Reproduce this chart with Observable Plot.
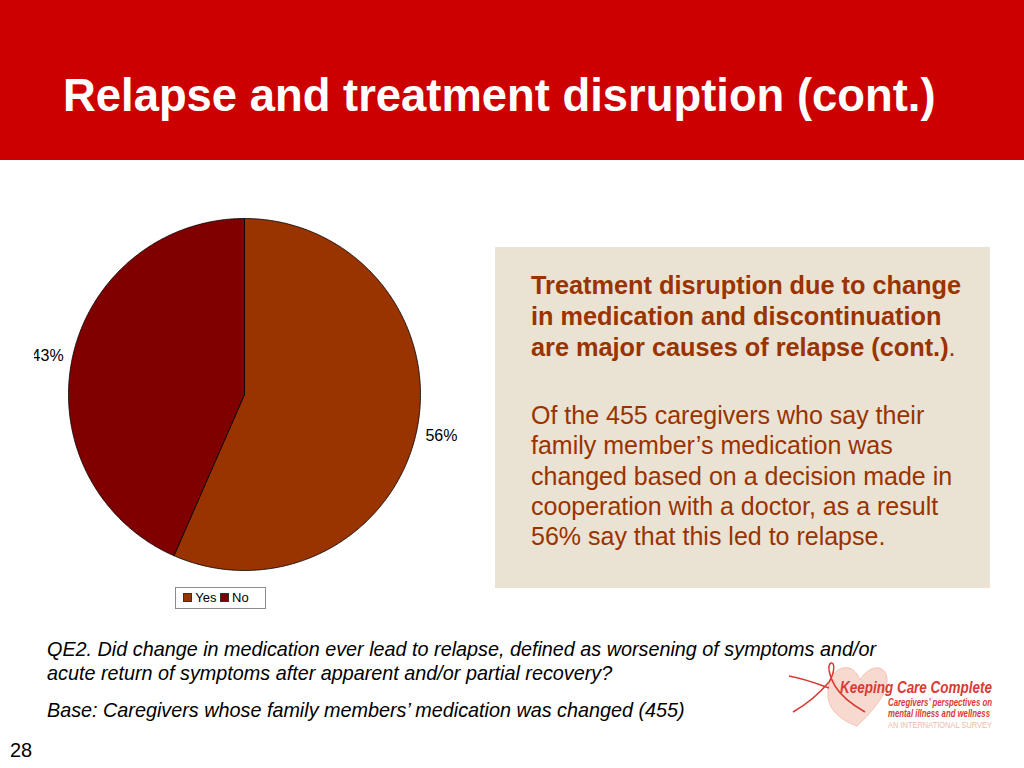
<!DOCTYPE html>
<html>
<head>
<meta charset="utf-8">
<script src="https://cdn.jsdelivr.net/npm/d3@7"></script>
<script src="https://cdn.jsdelivr.net/npm/@observablehq/plot@0.6"></script>
<style>
  html, body { margin: 0; padding: 0; }
  body { width: 1024px; height: 768px; position: relative; overflow: hidden; background: #fff; font-family: "Liberation Sans", Arial, Helvetica, sans-serif; }
  #header { position: absolute; left: 0; top: 0; width: 1024px; height: 160px; background: #CC0000; }
  #title { position: absolute; left: 63px; top: 70px; color: #fff; font-weight: bold; font-size: 45.4px; line-height: 52px; white-space: nowrap; }
  #chart { position: absolute; left: 34px; top: 200px; width: 446px; height: 380px; overflow: hidden; }
  #legend { position: absolute; left: 175px; top: 587px; width: 89px; height: 20px; border: 1px solid #8c8c8c; font-size: 13px; line-height: 20px; color: #000; white-space: nowrap; }
  #legend span.sw { display: inline-block; width: 7px; height: 7px; border: 1px solid #333; margin: 0 3px 0 0; vertical-align: 0px; }
  #box { position: absolute; left: 495px; top: 247px; width: 495px; height: 341px; background: #EAE2D3; }
  #boxtext { position: absolute; left: 531px; top: 270px; color: #993300; font-size: 25px; line-height: 31px; white-space: nowrap; }
  #boxtext .head { font-size: 25.3px; }
  #boxtext .body { margin-top: 37px; line-height: 30.3px; }
  #boxtext b { font-weight: bold; }
  #caption { position: absolute; left: 47px; top: 637px; font-style: italic; font-size: 19.8px; line-height: 24px; color: #000; white-space: nowrap; }
  #base { position: absolute; left: 47px; top: 698px; font-style: italic; font-size: 19.8px; line-height: 24px; color: #000; white-space: nowrap; }
  #page { position: absolute; left: 10px; top: 739px; font-size: 20px; color: #000; }
  #logo { position: absolute; left: 785px; top: 660px; }
</style>
</head>
<body>
<div id="header"></div>
<div id="title">Relapse and treatment disruption (cont.)</div>
<div id="chart"></div>
<div id="legend">&nbsp;&nbsp;<span class="sw" style="background:#993300"></span>Yes&nbsp;<span class="sw" style="background:#800000"></span>No</div>
<div id="box"></div>
<div id="boxtext">
  <div class="head"><b>Treatment disruption due to change<br>in medication and discontinuation<br>are major causes of relapse (cont.)</b>.</div>
  <div class="body">Of the 455 caregivers who say their<br>family member’s medication was<br>changed based on a decision made in<br>cooperation with a doctor, as a result<br>56% say that this led to relapse.</div>
</div>
<div id="caption">QE2. Did change in medication ever lead to relapse, defined as worsening of symptoms and/or<br>acute return of symptoms after apparent and/or partial recovery?</div>
<div id="base">Base: Caregivers whose family members’ medication was changed (455)</div>
<div id="page">28</div>
<svg id="logo" width="239" height="78" viewBox="0 0 239 78">
  <path d="M72 66 C 55 60, 44 50, 43 36 C 42 22, 48 10, 58 8 C 66 6, 72 12, 75 20 C 82 8, 94 4, 100 12 C 106 22, 100 40, 72 66 Z" fill="#F8D9CF" stroke="#F0B9AA" stroke-width="0.8"/>
  <path d="M8 52 C 22 44, 34 34, 44 22 C 50 12, 50 2, 46 3 C 42 5, 44 16, 50 26 C 56 36, 66 44, 80 52" fill="none" stroke="#D93A34" stroke-width="1.5"/>
  <path d="M4 16 C 16 18, 28 22, 44 28" fill="none" stroke="#D93A34" stroke-width="1.5"/>
  <text x="55" y="33" font-family="'Liberation Sans Narrow','Liberation Sans'" font-style="italic" font-size="16" fill="#D93A34" font-weight="bold" textLength="152" lengthAdjust="spacingAndGlyphs">Keeping Care Complete</text>
  <text x="103" y="46" font-family="'Liberation Sans Narrow','Liberation Sans'" font-style="italic" font-weight="bold" font-size="10" fill="#D93A34" textLength="104" lengthAdjust="spacingAndGlyphs">Caregivers’ perspectives on</text>
  <text x="103" y="57" font-family="'Liberation Sans Narrow','Liberation Sans'" font-style="italic" font-weight="bold" font-size="10" fill="#D93A34" textLength="102" lengthAdjust="spacingAndGlyphs">mental illness and wellness</text>
  <text x="103" y="68" font-family="'Liberation Sans Narrow','Liberation Sans'" font-size="8.5" fill="#F2B8A8" textLength="104" lengthAdjust="spacingAndGlyphs">AN INTERNATIONAL SURVEY</text>
</svg>
<script>
const categories = ["Yes", "No"];
const values = [56, 43];
const labels = ["56%", "43%"];
const colors = ["#993300", "#800000"];

const W = 446, H = 380;
const cx = 210, cy = 194, r = 176;

const arcs = d3.pie().sort(null).value(d => d.value)(
  categories.map((c, i) => ({ key: c, value: values[i], label: labels[i], color: colors[i] }))
);

function slicePoints(a) {
  const pts = [{ key: a.data.key, x: 0, y: 0 }];
  const n = Math.max(2, Math.ceil((a.endAngle - a.startAngle) / (Math.PI / 360)));
  for (let k = 0; k <= n; k++) {
    const t = a.startAngle + (a.endAngle - a.startAngle) * k / n;
    pts.push({ key: a.data.key, x: Math.sin(t), y: Math.cos(t) });
  }
  pts.push({ key: a.data.key, x: 0, y: 0 });
  return pts;
}

const labelData = arcs.map(a => {
  const m = (a.startAngle + a.endAngle) / 2;
  return { x: 1.05 * Math.sin(m), y: 1.05 * Math.cos(m), text: a.data.label, anchor: Math.sin(m) >= 0 ? "start" : "end" };
});

const marks = arcs.map(a => Plot.line(slicePoints(a), {
  x: "x", y: "y", fill: a.data.color, stroke: "#000", strokeWidth: 0.8, strokeLinejoin: "round"
}));
marks.push(Plot.text(labelData.filter(d => d.anchor === "start"), { x: "x", y: "y", text: "text", fontSize: 16, fill: "#000", textAnchor: "start", dy: 4 }));
marks.push(Plot.text(labelData.filter(d => d.anchor === "end"), { x: "x", y: "y", text: "text", fontSize: 16, fill: "#000", textAnchor: "end", dy: -1 }));

const plot = Plot.plot({
  width: W, height: H,
  margin: 0,
  x: { domain: [-1, 1], range: [cx - r, cx + r], axis: null },
  y: { domain: [-1, 1], range: [cy + r, cy - r], axis: null },
  style: { fontFamily: "'Liberation Sans', Arial, sans-serif", background: "transparent", overflow: "hidden" },
  marks
});
document.getElementById("chart").appendChild(plot);
</script>
</body>
</html>
